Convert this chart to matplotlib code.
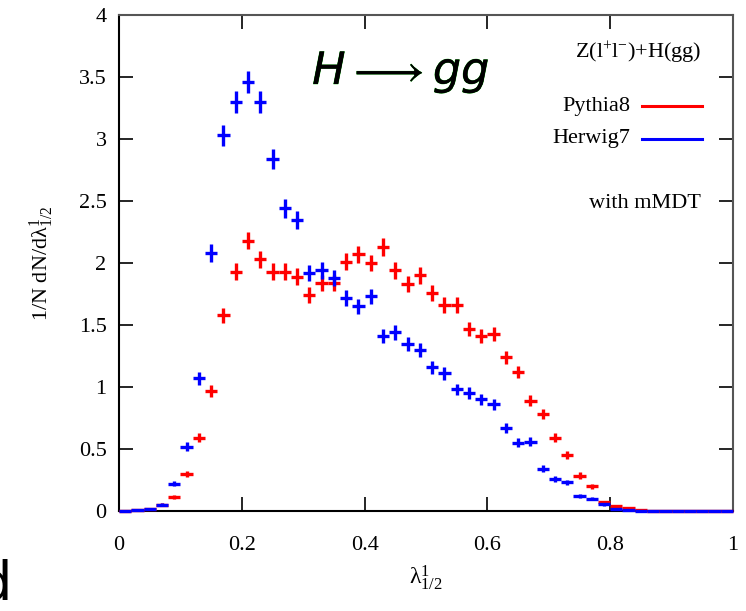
import numpy as np
import matplotlib
matplotlib.use('Agg')
from matplotlib import pyplot as plt
from matplotlib.lines import Line2D
import matplotlib.patheffects as pe

plt.rcParams['font.family'] = ['Liberation Serif', 'DejaVu Serif']
plt.rcParams['mathtext.default'] = 'regular'

# bin centres (width 0.02)
binCentres = np.round(np.arange(0.01, 1.0, 0.02), 3)

pythia = [0.0, 0.005, 0.02, 0.05, 0.11, 0.30, 0.59, 0.97, 1.58, 1.93,
          2.18, 2.03, 1.93, 1.93, 1.89, 1.74, 1.84, 1.84, 2.01, 2.07,
          2.00, 2.13, 1.94, 1.83, 1.90, 1.76, 1.66, 1.66, 1.47, 1.41,
          1.43, 1.24, 1.12, 0.89, 0.78, 0.59, 0.45, 0.285, 0.20, 0.07,
          0.04, 0.022, 0.005, 0, 0, 0, 0, 0, 0, 0]
pythiaErr = [0, 0.003, 0.007, 0.011, 0.016, 0.026, 0.037, 0.047, 0.06, 0.067,
             0.071, 0.068, 0.067, 0.067, 0.066, 0.063, 0.065, 0.065, 0.068, 0.069,
             0.068, 0.07, 0.067, 0.065, 0.066, 0.064, 0.062, 0.062, 0.058, 0.057,
             0.057, 0.053, 0.051, 0.045, 0.042, 0.037, 0.032, 0.026, 0.021, 0.013,
             0.01, 0.007, 0.003, 0, 0, 0, 0, 0, 0, 0]

herwig = [0.0, 0.01, 0.02, 0.05, 0.22, 0.52, 1.07, 2.08, 3.03, 3.30,
          3.46, 3.30, 2.84, 2.44, 2.35, 1.92, 1.94, 1.88, 1.72, 1.65,
          1.73, 1.41, 1.44, 1.35, 1.30, 1.16, 1.11, 0.98, 0.95, 0.90,
          0.86, 0.67, 0.55, 0.56, 0.34, 0.26, 0.23, 0.12, 0.10, 0.055,
          0.02, 0.005, 0, 0, 0, 0, 0, 0, 0, 0]
herwigErr = [0, 0.005, 0.007, 0.011, 0.022, 0.035, 0.05, 0.07, 0.083, 0.087,
             0.09, 0.087, 0.08, 0.075, 0.073, 0.066, 0.067, 0.066, 0.063, 0.062,
             0.063, 0.057, 0.058, 0.056, 0.055, 0.052, 0.051, 0.048, 0.047, 0.046,
             0.045, 0.039, 0.036, 0.036, 0.028, 0.024, 0.023, 0.017, 0.015, 0.011,
             0.007, 0.003, 0, 0, 0, 0, 0, 0, 0, 0]

xTicks = [0, 0.2, 0.4, 0.6, 0.8, 1]
xTickLabels = ['0', '0.2', '0.4', '0.6', '0.8', '1']
yTicks = [0, 0.5, 1, 1.5, 2, 2.5, 3, 3.5, 4]
yTickLabels = ['0', '0.5', '1', '1.5', '2', '2.5', '3', '3.5', '4']

fig = plt.figure(figsize=(7.46, 6.11), dpi=100)
ax = fig.add_axes([119/746, 1-511/611, 614/746, 496/611])

lw = 2.4
for vals, errs, col in [(pythia, pythiaErr, '#ff0000'), (herwig, herwigErr, '#0000ff')]:
    eb = ax.errorbar(binCentres, vals, xerr=0.01, yerr=errs, fmt='none',
                     ecolor=col, elinewidth=lw, capsize=0, zorder=3)
    for c in eb.lines[2]:
        c.set_clip_on(False)

ax.set_xlim(0, 1)
ax.set_ylim(0, 4)
ax.set_xticks(xTicks)
ax.set_xticklabels(xTickLabels)
ax.set_yticks(yTicks)
ax.set_yticklabels(yTickLabels)
ax.tick_params(direction='in', length=10, width=1.2, top=True, right=True,
               labelsize=16)
ax.tick_params(axis='x', pad=18)
ax.tick_params(axis='y', pad=9)
for s in ['left', 'bottom']:
    ax.spines[s].set_linewidth(1.5)
for s in ['top', 'right']:
    ax.spines[s].set_linewidth(1.5)
    ax.spines[s].set_color('#555555')

ax.set_xlabel(r'$λ^1_{1/2}$', fontsize=17, labelpad=6)
ax.set_ylabel(r'1/N dN/d$λ^1_{1/2}$', fontsize=16, labelpad=16)

def axc(px, py):
    return ((px - 119) / 614, (511 - py) / 496)

# H -> gg title
t = ax.text(*axc(401, 72), r'$\mathit{H} \longrightarrow \mathit{gg}$', transform=ax.transAxes,
            ha='center', va='center', fontsize=32, math_fontfamily='dejavusans', color='black')
t.set_path_effects([pe.withStroke(linewidth=0.5, foreground='#33cc33'), pe.Normal()])

ax.text(*axc(701, 53), r'Z(l$^{+}$l$^{-}$)+H(gg)', transform=ax.transAxes,
        ha='right', va='center', fontsize=16)
ax.text(*axc(630, 107), 'Pythia8', transform=ax.transAxes,
        ha='right', va='center', fontsize=16)
ax.text(*axc(630, 139), 'Herwig7', transform=ax.transAxes,
        ha='right', va='center', fontsize=16)
ax.add_line(Line2D([axc(642, 0)[0], axc(702, 0)[0]], [axc(0, 106)[1]] * 2,
                   transform=ax.transAxes, color='#ff0000', lw=2.2))
ax.add_line(Line2D([axc(642, 0)[0], axc(702, 0)[0]], [axc(0, 139)[1]] * 2,
                   transform=ax.transAxes, color='#0000ff', lw=2.2))
ax.text(*axc(701, 204), 'with mMDT', transform=ax.transAxes,
        ha='right', va='center', fontsize=16)

# panel letter, cut at the left edge
fig.text(12/746, 1-600/611, 'd', ha='right', va='baseline', fontsize=39,
         family='DejaVu Sans')

fig.savefig('out.png', dpi=100)
